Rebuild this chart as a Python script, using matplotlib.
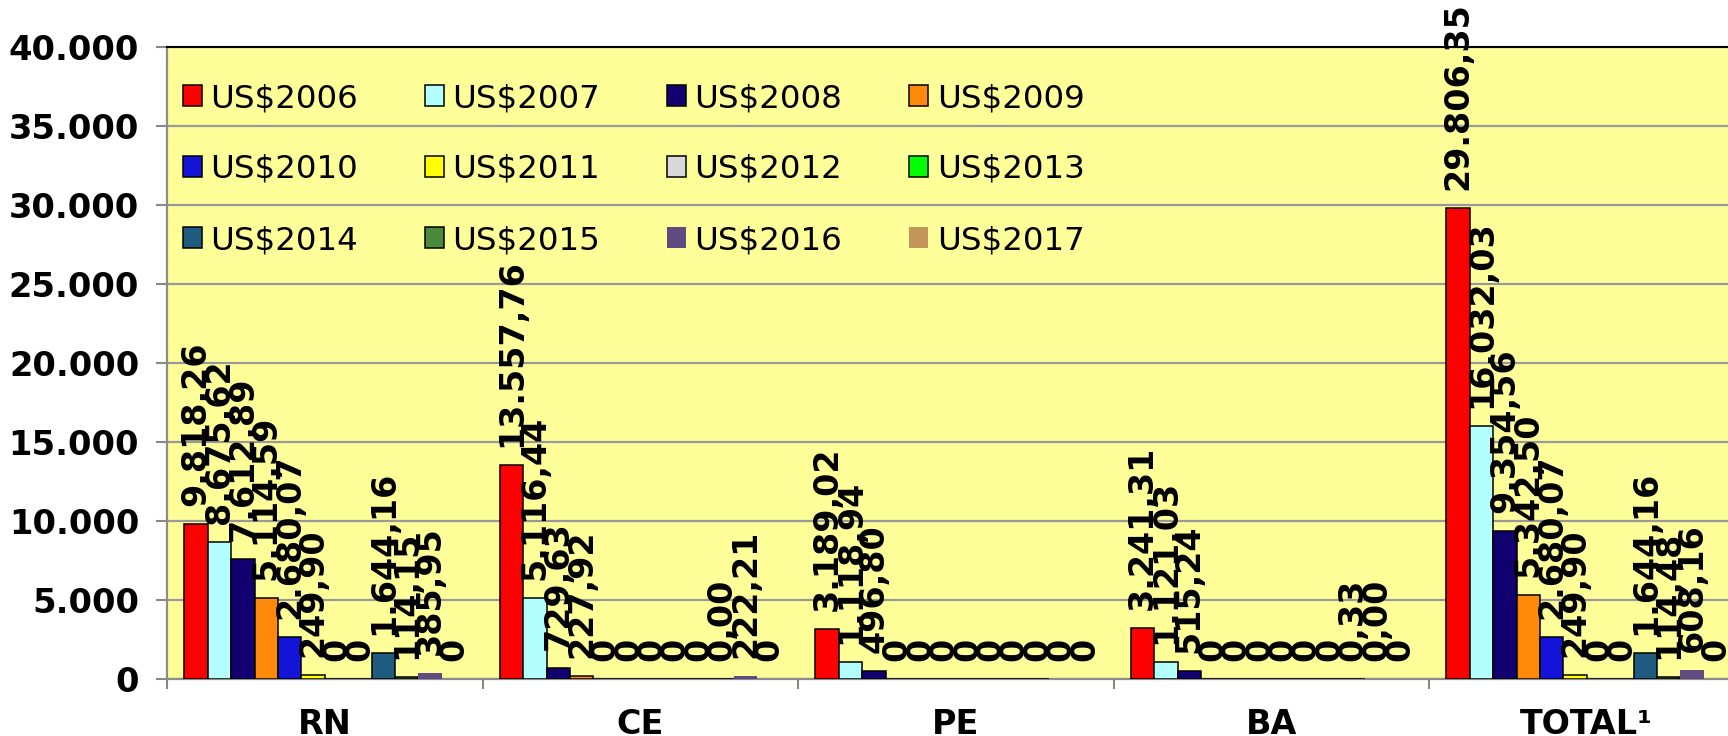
import matplotlib
matplotlib.use("Agg")
import matplotlib.pyplot as plt
from matplotlib.ticker import FixedLocator, FuncFormatter
import numpy as np

categories = ["RN", "CE", "PE", "BA", "TOTAL¹"]
series = ["US$2006", "US$2007", "US$2008", "US$2009", "US$2010", "US$2011",
          "US$2012", "US$2013", "US$2014", "US$2015", "US$2016", "US$2017"]

rn_values = [9818.26, 8675.62, 7612.89, 5114.59, 2680.07, 249.90, 0, 0, 1644.16, 114.15, 385.95, 0]
ce_values = [13557.76, 5116.44, 729.63, 227.92, 0, 0, 0, 0, 0, 0, 222.21, 0]
pe_values = [3189.02, 1118.94, 496.80, 0, 0, 0, 0, 0, 0, 0, 0, 0]
ba_values = [3241.31, 1121.03, 515.24, 0, 0, 0, 0, 0, 0, 0.33, 0, 0]
total_values = [29806.35, 16032.03, 9354.56, 5342.50, 2680.07, 249.90, 0, 0, 1644.16, 114.48, 608.16, 0]

rn_labels = ["9.818,26", "8.675,62", "7.612,89", "5.114,59", "2.680,07", "249,90", "0", "0", "1.644,16", "114,15", "385,95", "0"]
ce_labels = ["13.557,76", "5.116,44", "729,63", "227,92", "0", "0", "0", "0", "0", "0,00", "222,21", "0"]
pe_labels = ["3.189,02", "1.118,94", "496,80", "0", "0", "0", "0", "0", "0", "0", "0", "0"]
ba_labels = ["3.241,31", "1.121,03", "515,24", "0", "0", "0", "0", "0", "0", "0,33", "0,00", "0"]
total_labels = ["29.806,35", "16.032,03", "9.354,56", "5.342,50", "2.680,07", "249,90", "0", "0", "1.644,16", "114,48", "608,16", "0"]

y_ticks = [0, 5000, 10000, 15000, 20000, 25000, 30000, 35000, 40000]

colors = ["#FF0000", "#B3FFFF", "#120070", "#FF8A0A", "#1414D9", "#FFFF00",
          "#D9D9D9", "#00FF00", "#1F5C80", "#4A8A3A", "#5F4B7F", "#C4965A"]
edged = [True] * 10 + [False, False]

values = np.array([rn_values, ce_values, pe_values, ba_values, total_values])
labels = [rn_labels, ce_labels, pe_labels, ba_labels, total_labels]

W, H = 1728, 736
fig = plt.figure(figsize=(W / 100, H / 100), dpi=100)
ax_left, ax_bottom_px, ax_top_px, cat_px = 167, 679.3, 47.3, 315.5
ax = fig.add_axes([ax_left / W, (H - ax_bottom_px) / H, 5 * cat_px / W, (ax_bottom_px - ax_top_px) / H])
ax.set_facecolor("#FFFF99")

n = len(series)
bw = 23.4 / cat_px
x = np.arange(len(categories))
containers = []
for j in range(n):
    xs = x + (j - (n - 1) / 2) * bw
    bc = ax.bar(xs, values[:, j], width=bw, color=colors[j],
                edgecolor="black" if edged[j] else colors[j],
                linewidth=1.1 if edged[j] else 0, label=series[j], zorder=3)
    containers.append(bc)
    ax.bar_label(bc, labels=[labels[i][j] for i in range(len(categories))],
                 rotation=90, padding=13, fontsize=24, fontweight="bold",
                 color="black", zorder=5)

ax.set_xlim(-0.5, len(categories) - 0.5)
ax.set_ylim(0, 40000)

ax.yaxis.set_major_locator(FixedLocator(y_ticks))
ax.yaxis.set_major_formatter(FuncFormatter(lambda v, p: f"{int(v):,}".replace(",", ".")))
ax.grid(axis="y", color="#999999", linewidth=1.6, zorder=0)
ax.set_axisbelow(True)

ax.set_xticks(x)
ax.set_xticklabels(categories, fontsize=24, fontweight="bold")
ax.set_xticks(np.arange(-0.5, len(categories)), minor=True)
ax.tick_params(axis="x", which="major", length=0, pad=21)
ax.tick_params(axis="x", which="minor", length=7, width=1.5, color="#888888")
ax.tick_params(axis="y", length=8, width=1.5, color="#888888", pad=12, labelsize=24.3)
for t in ax.get_yticklabels():
    t.set_fontweight("bold")

for s in ["left", "bottom"]:
    ax.spines[s].set_color("#8c8c8c")
    ax.spines[s].set_linewidth(1.6)
ax.spines["top"].set_color("black")
ax.spines["top"].set_linewidth(1.5)
ax.spines["right"].set_visible(False)

order = [0, 4, 8, 1, 5, 9, 2, 6, 10, 3, 7, 11]
fs = 23.4
fs_px = fs * 100 / 72
text_w = 4.547 * fs_px
leg = ax.legend([containers[k] for k in order], [series[k] for k in order],
                ncol=4, loc="upper left",
                bbox_to_anchor=((183 - ax_left) / (5 * cat_px), (ax_bottom_px - 83) / (ax_bottom_px - ax_top_px)),
                frameon=False, fontsize=fs, borderpad=0, borderaxespad=0,
                handlelength=19 / fs_px, handleheight=19 / fs_px,
                handletextpad=8.5 / fs_px, columnspacing=(242 - 19 - 8.5 - text_w) / fs_px,
                labelspacing=40 / fs_px)
leg.set_zorder(6)

fig.savefig("out.png", dpi=100)
